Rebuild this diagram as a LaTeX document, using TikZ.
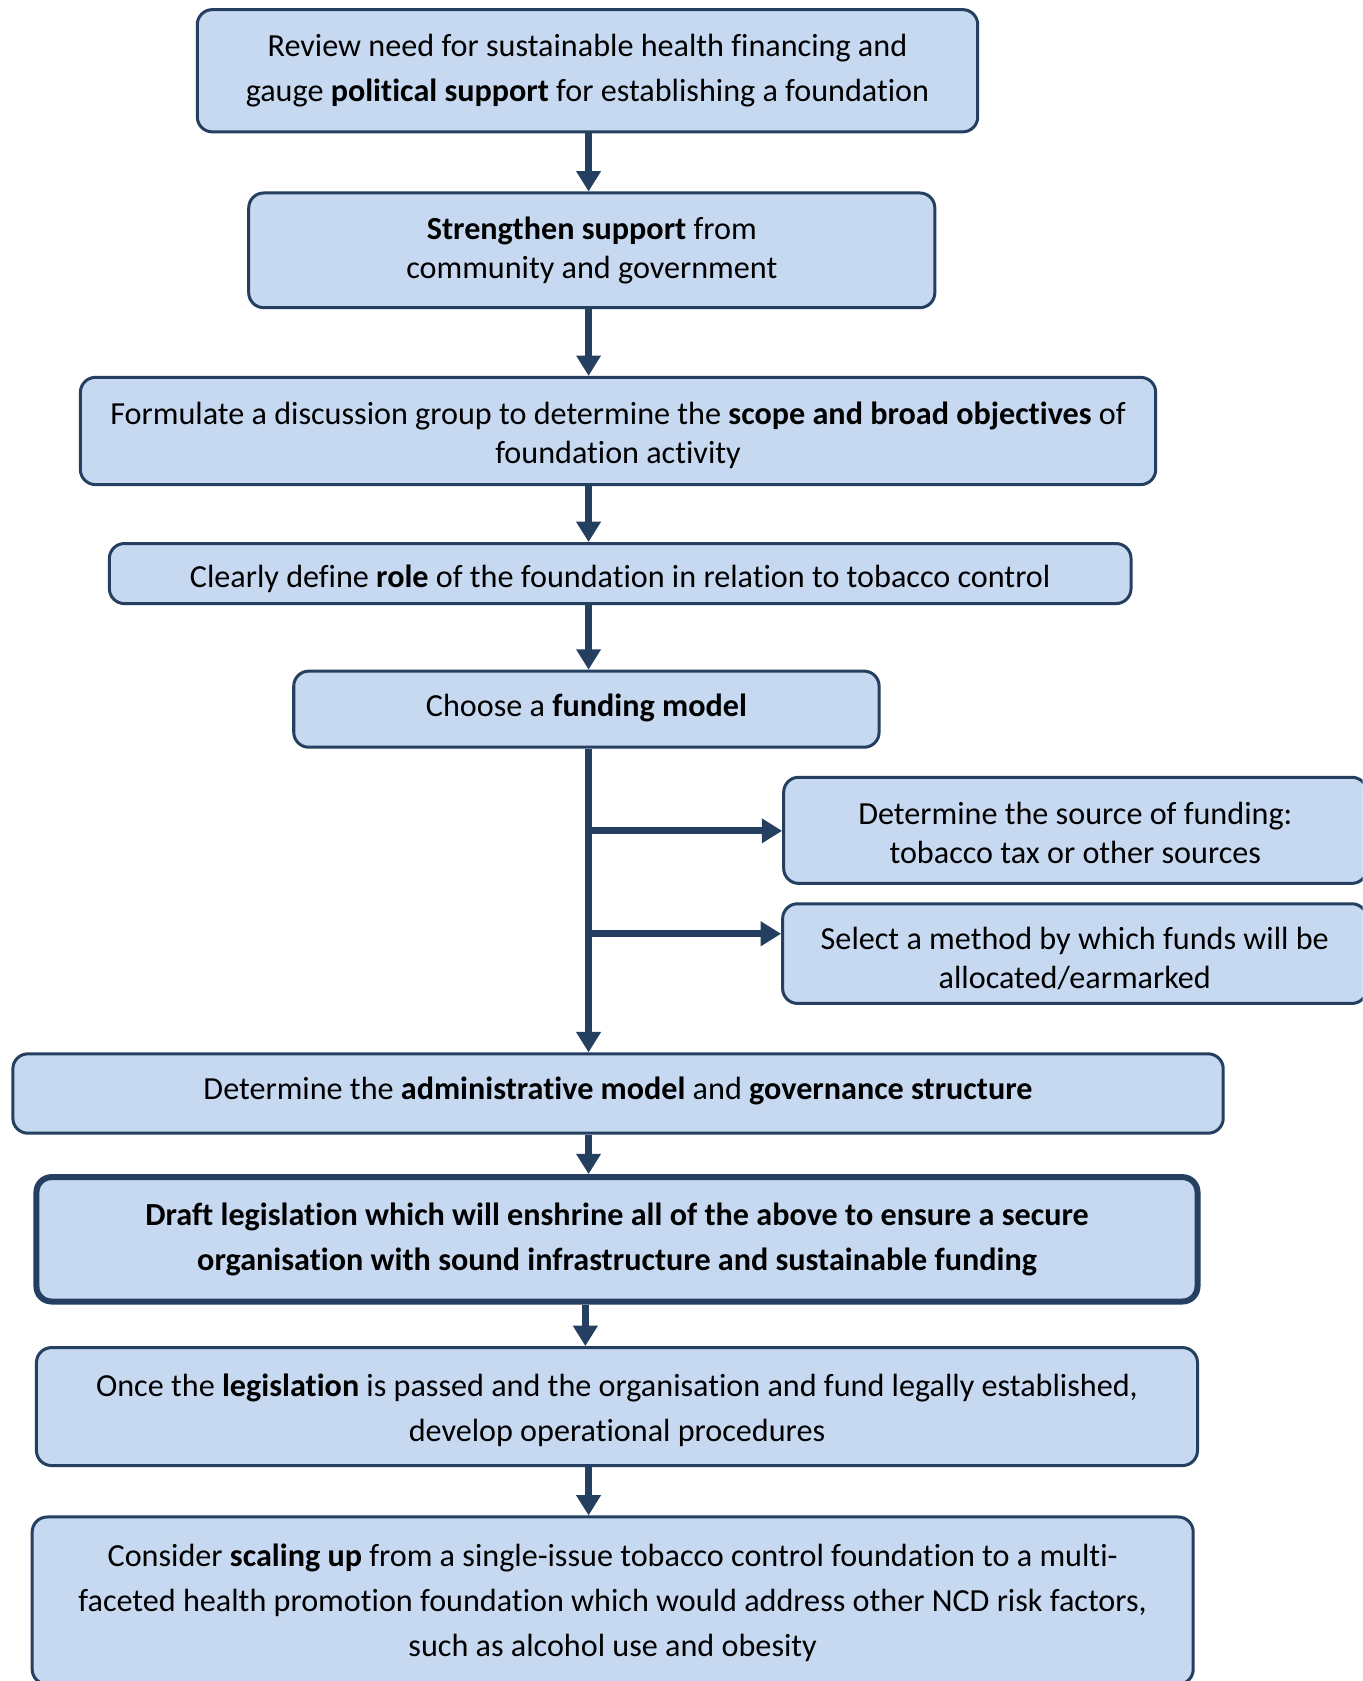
\documentclass[tikz,border=0pt]{standalone}
\usepackage{fontspec}
\setmainfont{Carlito}[Ligatures=NoCommon]
\usetikzlibrary{arrows.meta}
\definecolor{boxfill}{HTML}{C6D9F1}
\definecolor{navy}{HTML}{243F60}
\tikzset{
  flowbox/.style={draw=navy, fill=boxfill, rounded corners=7pt, line width=1.4pt, inner sep=0pt},
  thickbox/.style={flowbox, line width=2.8pt},
  boxtext/.style={align=center, inner sep=0pt, font=\fontsize{15}{18}\selectfont},
  widetext/.style={boxtext, font=\fontsize{15}{21}\selectfont},
  arr/.style={draw=navy, line width=3.2pt, -{Triangle[width=11pt,length=9.5pt]}}
}
\begin{document}
\begin{tikzpicture}[x=0.5pt,y=-0.5pt]
\clip (0,0) rectangle (1271,1568);
\fill[white] (0,0) rectangle (1271,1568);
% boxes
\node[flowbox, minimum width=364pt, minimum height=57pt] (b1) at (548,66) {};
\node[flowbox, minimum width=320pt, minimum height=53.5pt] (b2) at (552,233.5) {};
\node[flowbox, minimum width=501.5pt, minimum height=50pt] (b3) at (576.5,402) {};
\node[flowbox, minimum width=476.5pt, minimum height=28pt] (b4) at (578.5,535) {};
\node[flowbox, minimum width=273pt, minimum height=35.5pt] (b5) at (547,661.5) {};
\node[flowbox, minimum width=272pt, minimum height=49.5pt] (b6) at (1003,774.5) {};
\node[flowbox, minimum width=272.5pt, minimum height=46.5pt] (b7) at (1002.5,889.5) {};
\node[flowbox, minimum width=564.5pt, minimum height=37pt] (b8) at (576.5,1020) {};
\node[thickbox, minimum width=541.5pt, minimum height=58pt] (b9) at (575.5,1156) {};
\node[flowbox, minimum width=541.5pt, minimum height=55pt] (b10) at (575.5,1312) {};
\node[flowbox, minimum width=541.5pt, minimum height=78pt] (b11) at (571.5,1493) {};
% texts
\node[widetext] (t1) at (b1.center)
  {Review need for sustainable health financing and\\gauge \textbf{political support} for establishing a foundation};
\node[boxtext] (t2) at (b2.center)
  {\textbf{Strengthen support} from\\community and government};
\node[boxtext] (t3) at ([yshift=-2pt]b3.center)
  {Formulate a discussion group to determine the \textbf{scope and broad objectives} of\\foundation activity};
\node[boxtext] (t4) at ([yshift=-2.5pt]b4.center)
  {Clearly define \textbf{role} of the foundation in relation to tobacco control};
\node[boxtext] (t5) at ([yshift=0.5pt]b5.center)
  {Choose a \textbf{funding model}};
\node[boxtext] (t6) at ([yshift=-1.2pt]b6.center)
  {Determine the source of funding:\\tobacco tax or other sources};
\node[boxtext] (t7) at ([yshift=-2.2pt]b7.center)
  {Select a method by which funds will be\\allocated/earmarked};
\node[boxtext] (t8) at ([yshift=1pt]b8.center)
  {Determine the \textbf{administrative model} and \textbf{governance structure}};
\node[widetext, font=\bfseries\fontsize{15}{21}\selectfont] (t9) at (b9.center)
  {Draft legislation which will enshrine all of the above to ensure a secure\\organisation with sound infrastructure and sustainable funding};
\node[widetext] (t10) at ([yshift=-1.8pt]b10.center)
  {Once the \textbf{legislation} is passed and the organisation and fund legally established,\\develop operational procedures};
\node[widetext] (t11) at ([yshift=-1pt]b11.center)
  {Consider \textbf{scaling up} from a single-issue tobacco control foundation to a multi-\\faceted health promotion foundation which would address other NCD risk factors,\\such as alcohol use and obesity};
% connectors
\coordinate (ax) at (549,0);
\coordinate (bx) at (546,0);
\coordinate (br1) at (549,775);
\coordinate (br2) at (549,871);
\draw[arr] (b1.south -| ax) -- (b2.north -| ax);
\draw[arr] (b2.south -| ax) -- (b3.north -| ax);
\draw[arr] (b3.south -| ax) -- (b4.north -| ax);
\draw[arr] (b4.south -| ax) -- (b5.north -| ax);
\draw[arr] (b5.south -| ax) -- (b8.north -| ax);
\draw[arr] (br1) -- (b6.west |- br1);
\draw[arr] (br2) -- (b7.west |- br2);
\draw[arr] (b8.south -| ax) -- (b9.north -| ax);
\draw[arr] (b9.south -| bx) -- (b10.north -| bx);
\draw[arr] (b10.south -| ax) -- (b11.north -| ax);
\end{tikzpicture}
\end{document}
